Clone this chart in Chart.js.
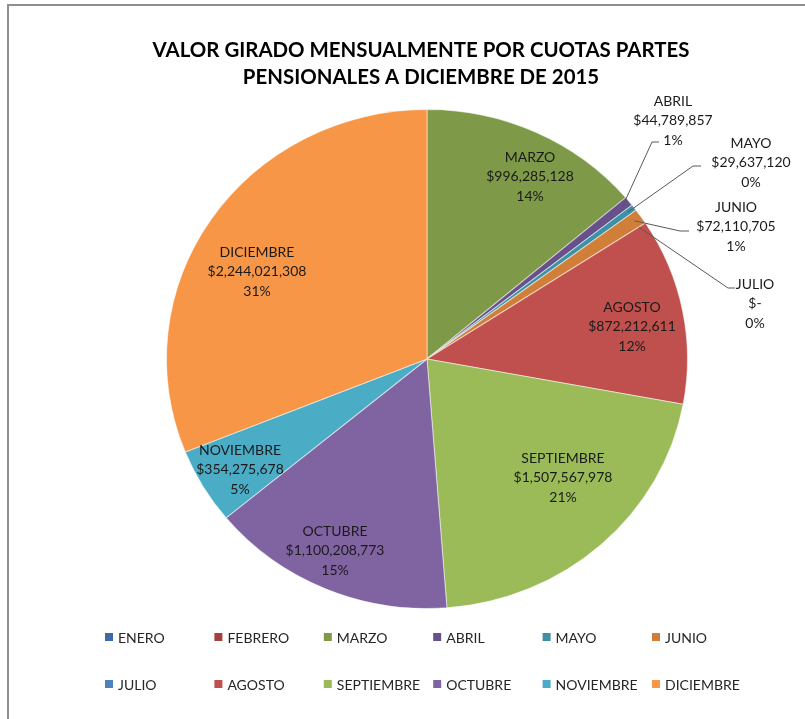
<!DOCTYPE html>
<html>
<head>
<meta charset="utf-8">
<script src="https://cdn.jsdelivr.net/npm/chart.js@4.4.0/dist/chart.umd.min.js"></script>
<style>
  body { margin: 0; background: #fff; }
  canvas { display: block; }
</style>
</head>
<body>
<canvas id="pieChart" width="805" height="719"></canvas>
<script>
// Data
const months = ['ENERO', 'FEBRERO', 'MARZO', 'ABRIL', 'MAYO', 'JUNIO', 'JULIO', 'AGOSTO', 'SEPTIEMBRE', 'OCTUBRE', 'NOVIEMBRE', 'DICIEMBRE'];
const amounts = [0, 0, 996285128, 44789857, 29637120, 72110705, 0, 872212611, 1507567978, 1100208773, 354275678, 2244021308];
const sliceColors = ['#3E6BA3', '#A3403E', '#7E9A48', '#68508A', '#3C91A7', '#D17F38', '#4F81BD', '#C0504D', '#9BBB59', '#8064A2', '#4BACC6', '#F79646'];
const titleLines = ['VALOR GIRADO MENSUALMENTE POR CUOTAS PARTES', 'PENSIONALES A DICIEMBRE DE 2015'];

// Layout of labels (index -> where the text block sits)
const insideLabels = {
    2: [530, 157], 7: [632, 307], 8: [563, 458], 9: [335, 531], 10: [240, 450], 11: [257, 252]
};
// outside labels: text center, elbow point, end of leader
const outsideLabels = {
    3: { x: 673, y: 101, elbow: [652, 142], end: [659, 142] },
    4: { x: 751, y: 143, elbow: [693, 166], end: [701, 166] },
    5: { x: 736, y: 207, elbow: [680, 231], end: [689, 231] },
    6: { x: 755, y: 284, elbow: [728, 288], end: [735, 288] }
};
const SX = 1.044;   // the reference pie is a little wider than tall
const LINE_H = 19.6;

const total = amounts.reduce((a, b) => a + b, 0);

function money(v) {
    return v === 0 ? '$-' : '$' + v.toLocaleString('en-US');
}
function pct(v) {
    return Math.round(v / total * 100) + '%';
}

const stretchPlugin = {
    id: 'stretch',
    beforeDatasetsDraw(chart) {
        const arc = chart.getDatasetMeta(0).data[0];
        const ctx = chart.ctx;
        ctx.save();
        ctx.translate(arc.x, arc.y);
        ctx.scale(SX, 1);
        ctx.translate(-arc.x, -arc.y);
    },
    afterDatasetsDraw(chart) {
        chart.ctx.restore();
    }
};

const decorPlugin = {
    id: 'decor',
    afterDraw(chart) {
        const ctx = chart.ctx;
        ctx.save();

        // frame
        ctx.strokeStyle = '#8f8f8f';
        ctx.lineWidth = 2;
        ctx.beginPath();
        ctx.moveTo(8, 719);
        ctx.lineTo(8, 5);
        ctx.lineTo(805, 5);
        ctx.stroke();

        // title
        ctx.fillStyle = '#000';
        ctx.textAlign = 'center';
        ctx.textBaseline = 'alphabetic';
        ctx.font = 'bold 20px Lato';
        const w = ctx.measureText(titleLines[0]).width;
        const size = 20 * 537 / w;
        ctx.font = 'bold ' + size.toFixed(2) + 'px Lato';
        ctx.fillText(titleLines[0], 421, 57);
        ctx.fillText(titleLines[1], 421, 84);

        // data labels
        const meta = chart.getDatasetMeta(0);
        ctx.font = '14px Lato';
        ctx.fillStyle = '#1a1a1a';
        ctx.textBaseline = 'middle';
        Object.keys(insideLabels).forEach(k => {
            const i = +k;
            const p = insideLabels[i];
            const lines = [months[i], money(amounts[i]), pct(amounts[i])];
            lines.forEach((t, j) => ctx.fillText(t, p[0], p[1] + j * LINE_H));
        });

        Object.keys(outsideLabels).forEach(k => {
            const i = +k;
            const o = outsideLabels[i];
            const arc = meta.data[i];
            const mid = (arc.startAngle + arc.endAngle) / 2;
            const r = arc.outerRadius * 0.97;
            const px = arc.x + Math.cos(mid) * r * SX;
            const py = arc.y + Math.sin(mid) * r;
            ctx.strokeStyle = '#595959';
            ctx.lineWidth = 1;
            ctx.beginPath();
            ctx.moveTo(px, py);
            ctx.lineTo(o.elbow[0], o.elbow[1]);
            ctx.lineTo(o.end[0], o.end[1]);
            ctx.stroke();
            const lines = [months[i], money(amounts[i]), pct(amounts[i])];
            lines.forEach((t, j) => ctx.fillText(t, o.x, o.y + j * LINE_H));
        });

        // legend, two rows of six
        ctx.textAlign = 'left';
        months.forEach((m, i) => {
            const col = i % 6;
            const row = Math.floor(i / 6);
            const x = 105 + col * 109.4;
            const y = 637 + row * 47;
            ctx.fillStyle = sliceColors[i];
            ctx.fillRect(x, y - 4, 8, 8);
            ctx.fillStyle = '#262626';
            ctx.fillText(m, x + 13, y + 1);
        });

        ctx.restore();
    }
};

const ctx = document.getElementById('pieChart').getContext('2d');
const pieChart = new Chart(ctx, {
    type: 'pie',
    data: {
        labels: months,
        datasets: [{
            data: amounts,
            backgroundColor: sliceColors,
            borderColor: 'rgba(255, 255, 255, 0.5)',
            borderWidth: 1
        }]
    },
    options: {
        responsive: false,
        animation: false,
        layout: {
            padding: { top: 109, bottom: 110, left: 177, right: 128 }
        },
        plugins: {
            legend: { display: false },
            title: { display: false },
            tooltip: { enabled: false }
        }
    },
    plugins: [stretchPlugin, decorPlugin]
});
</script>
</body>
</html>
